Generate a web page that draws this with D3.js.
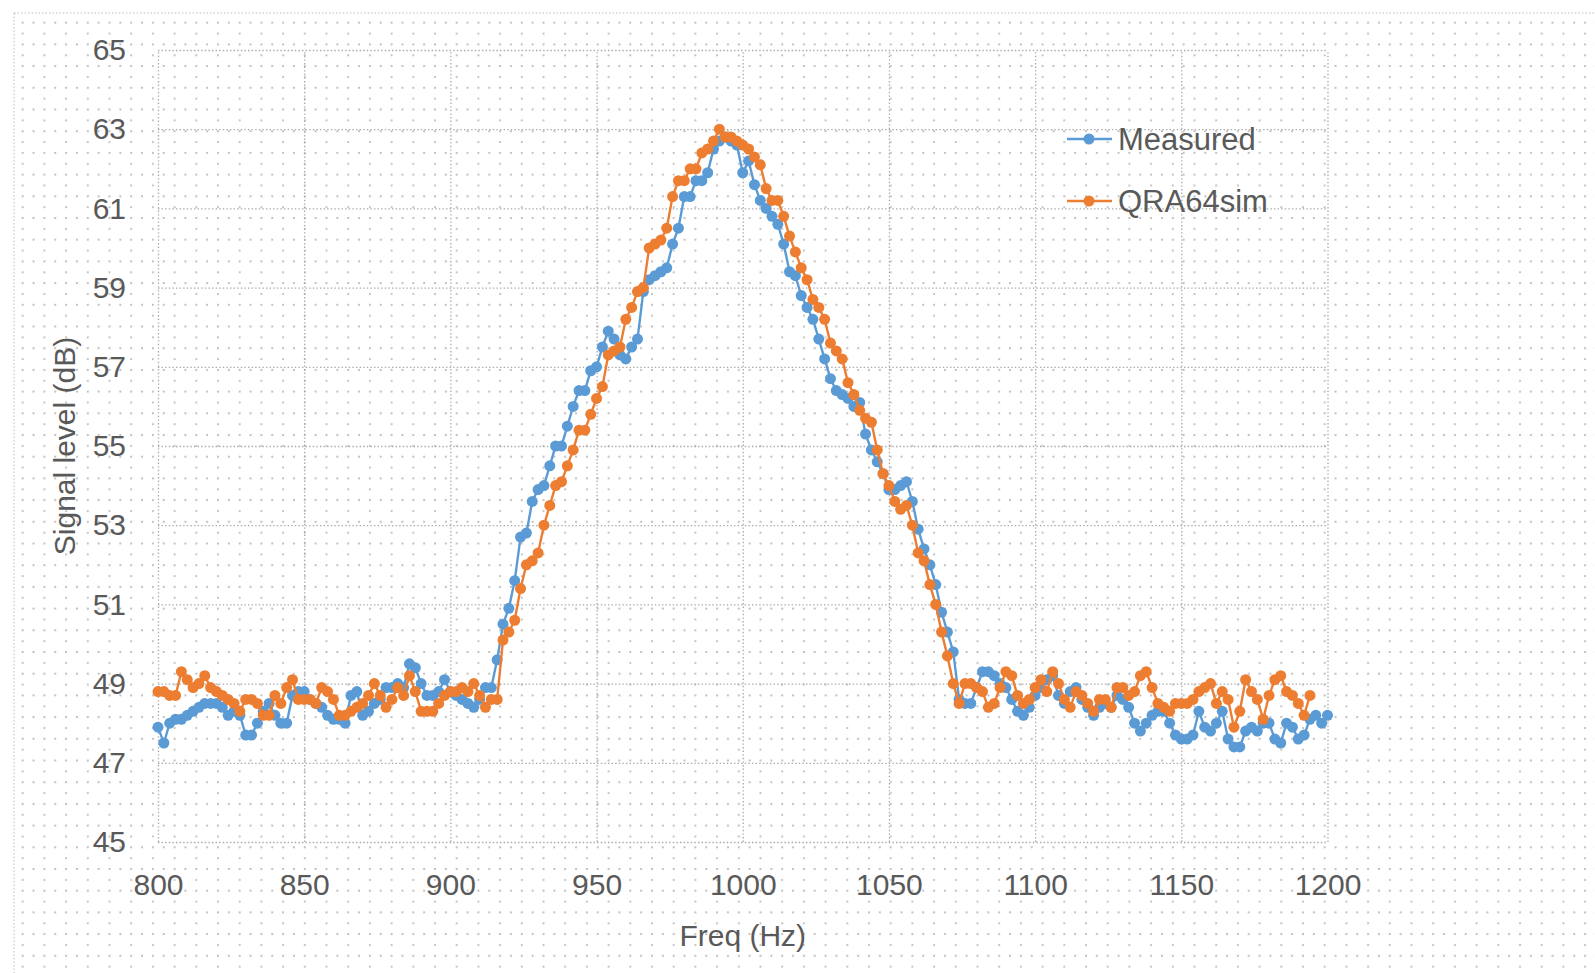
<!DOCTYPE html>
<html>
<head>
<meta charset="utf-8">
<script src="https://cdnjs.cloudflare.com/ajax/libs/d3/7.8.5/d3.min.js"></script>
<style>
  html, body { margin: 0; padding: 0; background: #fff; }
  svg { display: block; }
  text { font-family: "Liberation Sans", Arial, sans-serif; fill: #595959; }
</style>
</head>
<body>
<div id="chart"></div>
<script>
// frequency grid: first point and spacing (Hz)
const freqStart = 800
const freqStep = 2

// Measured, 800..1200 Hz
const measured = [
  47.9, 47.5, 48.0, 48.1, 48.1, 48.2, 48.3, 48.4, 48.5, 48.5,
  48.5, 48.4, 48.2, 48.3, 48.2, 47.7, 47.7, 48.0, 48.3, 48.5,
  48.2, 48.0, 48.0, 48.7, 48.8, 48.8, 48.6, 48.5, 48.4, 48.2,
  48.1, 48.1, 48.0, 48.7, 48.8, 48.2, 48.3, 48.5, 48.6, 48.9,
  48.9, 49.0, 48.9, 49.5, 49.4, 49.0, 48.7, 48.7, 48.8, 49.1,
  48.8, 48.7, 48.6, 48.5, 48.4, 48.6, 48.9, 48.9, 49.6, 50.5,
  50.9, 51.6, 52.7, 52.8, 53.6, 53.9, 54.0, 54.5, 55.0, 55.0,
  55.5, 56.0, 56.4, 56.4, 56.9, 57.0, 57.5, 57.9, 57.7, 57.3,
  57.2, 57.5, 57.7, 58.9, 59.2, 59.3, 59.4, 59.5, 60.1, 60.5,
  61.3, 61.3, 61.7, 61.7, 61.9, 62.5, 62.7, 62.8, 62.7, 62.6,
  61.9, 62.2, 61.6, 61.2, 61.0, 60.8, 60.6, 60.1, 59.4, 59.3,
  58.8, 58.5, 58.2, 57.7, 57.2, 56.7, 56.4, 56.3, 56.2, 56.0,
  56.1, 55.3, 54.9, 54.6, 54.3, 53.9, 53.9, 54.0, 54.1, 53.6,
  52.9, 52.4, 52.0, 51.5, 50.8, 50.3, 49.8, 48.6, 48.5, 48.5,
  48.9, 49.3, 49.3, 49.2, 49.0, 48.9, 48.6, 48.3, 48.2, 48.4,
  48.7, 48.9, 49.1, 49.2, 48.7, 48.5, 48.8, 48.9, 48.6, 48.4,
  48.2, 48.4, 48.5, 48.4, 48.7, 48.6, 48.4, 48.0, 47.8, 48.0,
  48.2, 48.3, 48.3, 48.0, 47.7, 47.6, 47.6, 47.7, 48.3, 47.9,
  47.8, 48.0, 48.3, 47.6, 47.4, 47.4, 47.8, 47.9, 47.8, 48.0,
  48.0, 47.6, 47.5, 48.0, 47.9, 47.6, 47.7, 48.1, 48.2, 48.0,
  48.2
]

// QRA64sim, 800..1194 Hz
const qra64sim = [
  48.8, 48.8, 48.7, 48.7, 49.3, 49.1, 48.9, 49.0, 49.2, 48.9,
  48.8, 48.7, 48.6, 48.5, 48.3, 48.6, 48.6, 48.5, 48.2, 48.2,
  48.7, 48.5, 48.9, 49.1, 48.6, 48.6, 48.6, 48.5, 48.9, 48.8,
  48.6, 48.2, 48.2, 48.3, 48.4, 48.5, 48.7, 49.0, 48.7, 48.4,
  48.6, 48.9, 48.7, 49.2, 48.8, 48.3, 48.3, 48.3, 48.5, 48.7,
  48.8, 48.8, 48.9, 48.8, 49.0, 48.7, 48.4, 48.6, 48.6, 50.1,
  50.3, 50.6, 51.4, 52.0, 52.1, 52.3, 53.0, 53.5, 54.0, 54.1,
  54.5, 54.9, 55.4, 55.4, 55.8, 56.2, 56.5, 57.3, 57.4, 57.5,
  58.2, 58.5, 58.9, 59.0, 60.0, 60.1, 60.2, 60.5, 61.3, 61.7,
  61.7, 62.0, 62.0, 62.4, 62.5, 62.7, 63.0, 62.8, 62.8, 62.7,
  62.6, 62.5, 62.3, 62.1, 61.5, 61.2, 61.2, 60.8, 60.3, 59.9,
  59.5, 59.2, 58.7, 58.5, 58.2, 57.6, 57.4, 57.2, 56.6, 56.3,
  55.9, 55.7, 55.6, 54.9, 54.3, 54.0, 53.6, 53.4, 53.5, 53.0,
  52.3, 52.1, 51.5, 51.0, 50.3, 49.7, 49.0, 48.5, 49.0, 49.0,
  48.9, 48.8, 48.4, 48.5, 48.9, 49.3, 49.2, 48.7, 48.5, 48.6,
  48.9, 49.1, 48.8, 49.3, 49.0, 48.6, 48.4, 48.8, 48.7, 48.5,
  48.3, 48.6, 48.6, 48.4, 48.9, 48.9, 48.7, 48.8, 49.2, 49.3,
  48.9, 48.5, 48.4, 48.3, 48.5, 48.5, 48.5, 48.6, 48.8, 48.9,
  49.0, 48.5, 48.8, 48.6, 47.9, 48.3, 49.1, 48.8, 48.6, 48.1,
  48.7, 49.1, 49.2, 48.8, 48.7, 48.5, 48.2, 48.7
]

const seriesNames = ['Measured', 'QRA64sim']
const seriesColors = ['#5b9bd5', '#ed7d31']
const xTicks = [800, 850, 900, 950, 1000, 1050, 1100, 1150, 1200]
const yTicks = [45, 47, 49, 51, 53, 55, 57, 59, 61, 63, 65]
const xTitle = 'Freq (Hz)'
const yTitle = 'Signal level (dB)'

const width = 1595
const height = 973
const plot = {left: 158, right: 1327.5, top: 50, bottom: 842}

const svg = d3.select('#chart').append('svg')
  .attr('width', width)
  .attr('height', height)

// dotty background of the original scan
const defs = svg.append('defs')
const pat = defs.append('pattern')
  .attr('id', 'dots')
  .attr('patternUnits', 'userSpaceOnUse')
  .attr('width', 21.7).attr('height', 21.7)
pat.selectAll('circle')
  .data([[1, 1], [11.85, 1], [1, 11.85]])
  .enter().append('circle')
  .attr('cx', d => d[0]).attr('cy', d => d[1])
  .attr('r', 1.1)
  .attr('fill', '#bdbdbd')

svg.append('rect')
  .attr('width', width).attr('height', height)
  .attr('fill', '#fff')
svg.append('rect')
  .attr('x', 14).attr('y', 13)
  .attr('width', width).attr('height', height)
  .attr('fill', 'url(#dots)')
  .attr('stroke', '#bdbdbd')
  .attr('stroke-dasharray', '1.5,2')

const x = d3.scaleLinear().domain([800, 1200]).range([plot.left, plot.right])
const y = d3.scaleLinear().domain([45, 65]).range([plot.bottom, plot.top])

// grid
svg.append('g')
  .attr('class', 'grid')
  .attr('transform', `translate(0,${plot.bottom})`)
  .call(d3.axisBottom(x).tickValues(xTicks).tickSize(-(plot.bottom - plot.top)).tickFormat(''))
svg.append('g')
  .attr('class', 'grid')
  .attr('transform', `translate(${plot.left},0)`)
  .call(d3.axisLeft(y).tickValues(yTicks).tickSize(-(plot.right - plot.left)).tickFormat(''))
svg.selectAll('.grid .domain').remove()
svg.selectAll('.grid line')
  .attr('stroke', '#a9a9a9')
  .attr('stroke-width', 1.3)
  .attr('stroke-dasharray', '1.4,2.2')

// axes
const xAxis = svg.append('g')
  .attr('transform', `translate(0,${plot.bottom})`)
  .call(d3.axisBottom(x).tickValues(xTicks).tickSize(0).tickPadding(32).tickFormat(d3.format('d')))
const yAxis = svg.append('g')
  .attr('transform', `translate(${plot.left},0)`)
  .call(d3.axisLeft(y).tickValues(yTicks).tickSize(0).tickPadding(32))
xAxis.select('.domain').remove()
yAxis.select('.domain').remove()
svg.selectAll('.tick text')
  .attr('font-size', 30)
  .attr('font-family', '"Liberation Sans", Arial, sans-serif')
  .attr('fill', '#595959')

svg.append('text')
  .attr('x', (plot.left + plot.right) / 2)
  .attr('y', 946)
  .attr('text-anchor', 'middle')
  .attr('font-size', 30)
  .text(xTitle)

svg.append('text')
  .attr('transform', `translate(75,${(plot.top + plot.bottom) / 2}) rotate(-90)`)
  .attr('text-anchor', 'middle')
  .attr('font-size', 30)
  .text(yTitle)

// series
const series = [measured, qra64sim].map((vals, i) => ({
  name: seriesNames[i],
  color: seriesColors[i],
  points: vals.map((v, j) => ({f: freqStart + j * freqStep, v: v}))
}))

const line = d3.line().x(d => x(d.f)).y(d => y(d.v))

series.forEach(s => {
  const g = svg.append('g')
  g.append('path')
    .datum(s.points)
    .attr('d', line)
    .attr('fill', 'none')
    .attr('stroke', s.color)
    .attr('stroke-width', 2.4)
  g.selectAll('circle')
    .data(s.points)
    .enter()
    .append('circle')
    .attr('cx', d => x(d.f))
    .attr('cy', d => y(d.v))
    .attr('r', 5.5)
    .attr('fill', s.color)
})

// legend
const legend = svg.append('g').attr('transform', 'translate(1067,139)')
series.forEach((s, i) => {
  const row = legend.append('g').attr('transform', `translate(0,${i * 62})`)
  row.append('line')
    .attr('x1', 0).attr('x2', 45)
    .attr('stroke', s.color).attr('stroke-width', 2.4)
  row.append('circle')
    .attr('cx', 22).attr('r', 5.5)
    .attr('fill', s.color)
  row.append('text')
    .attr('x', 51).attr('dy', '0.35em')
    .attr('font-size', 31)
    .text(s.name)
})
</script>
</body>
</html>
